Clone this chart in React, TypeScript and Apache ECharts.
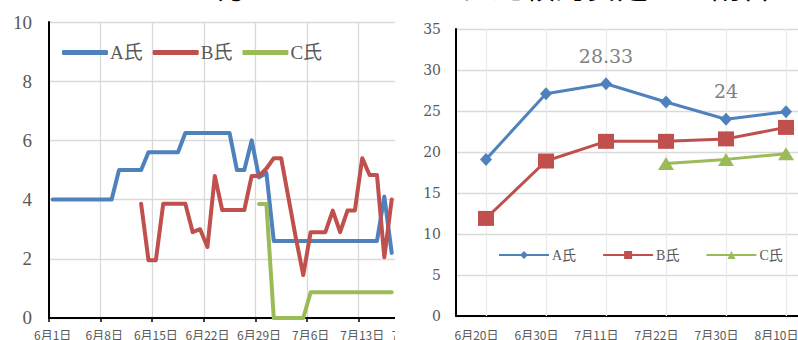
import React, { useEffect, useRef } from "react";
import * as echarts from "echarts";

// ---- left chart: daily values, 6/1 onwards ----
const leftMonthDays: [number, number][] = [
  [6, 30],
  [7, 27],
];
const leftDates: string[] = [];
for (const [m, n] of leftMonthDays) {
  for (let d = 1; d <= n; d++) leftDates.push(`${m}月${d}日`);
}

const leftNames = ["A氏", "B氏", "C氏"];
const leftA: (number | null)[] = [
  4, 4, 4, 4, 4, 4, 4, 4, 4,
  5, 5, 5, 5,
  5.6, 5.6, 5.6, 5.6, 5.6,
  6.25, 6.25, 6.25, 6.25, 6.25, 6.25, 6.25,
  5, 5, 6, 4.75, 4.9,
  2.6, 2.6, 2.6, 2.6, 2.6, 2.6, 2.6, 2.6, 2.6, 2.6, 2.6, 2.6, 2.6, 2.6, 2.6,
  4.1, 2.2,
];
const leftB: (number | null)[] = [
  null, null, null, null, null, null, null, null, null, null, null, null,
  3.86, 1.95, 1.95, 3.86, 3.86, 3.86, 3.86, 2.9, 3.0, 2.4,
  4.8, 3.65, 3.65, 3.65, 3.65, 4.8, 4.8, 5.05, 5.4, 5.4,
  4.05, 2.7, 1.45, 2.9, 2.9, 2.9, 3.63, 2.9, 3.63, 3.63,
  5.4, 4.83, 4.83, 2.05, 4.0,
];
const leftC: (number | null)[] = [
  null, null, null, null, null, null, null, null, null, null,
  null, null, null, null, null, null, null, null, null, null,
  null, null, null, null, null, null, null, null,
  3.85, 3.85, 0, 0, 0, 0, 0,
  0.87, 0.87, 0.87, 0.87, 0.87, 0.87, 0.87, 0.87, 0.87, 0.87, 0.87, 0.87,
];

// ---- right chart: survey dates ----
const rightDates = ["6月20日", "6月30日", "7月11日", "7月22日", "7月30日", "8月10日"];
const rightA: (number | null)[] = [19.1, 27.1, 28.33, 26.1, 24, 24.9];
const rightB: (number | null)[] = [11.9, 18.9, 21.3, 21.3, 21.6, 23.0];
const rightC: (number | null)[] = [null, null, null, 18.6, 19.1, 19.8];
const rightLabelled = [2, 4]; // points of A氏 that carry a value label

const COLORS = ["#4F81BD", "#C0504D", "#9BBB59"];
const GRAY = "#595959";
const SERIF = "'Liberation Serif', 'Noto Sans CJK JP', serif";
const GOTHIC = "'Noto Sans CJK JP', sans-serif";

function leftOption(): echarts.EChartsCoreOption {
  const series = [leftA, leftB, leftC].map((d, i) => ({
    name: leftNames[i],
    type: "line",
    data: d,
    symbol: "none",
    connectNulls: false,
    lineStyle: { color: COLORS[i], width: 4, cap: "round", join: "round" },
    itemStyle: { color: COLORS[i] },
  }));
  return {
    animation: false,
    grid: { left: 49, top: 22, width: leftDates.length * 7.37, height: 298 },
    legend: {
      left: 62,
      top: 43,
      icon: "roundRect",
      itemWidth: 46,
      itemHeight: 5,
      itemGap: 10,
      padding: 0,
      textStyle: { fontFamily: SERIF, fontSize: 19, color: GRAY, padding: [0, 0, 0, -3] },
      data: leftNames,
    },
    xAxis: {
      type: "category",
      data: leftDates,
      boundaryGap: true,
      axisLine: { lineStyle: { color: "#000", width: 2 } },
      axisTick: { show: true, interval: 6, length: 4, lineStyle: { color: "#000", width: 1.5 } },
      axisLabel: { interval: 6, margin: 10, fontSize: 12, color: GRAY, fontFamily: GOTHIC },
      splitLine: { show: true, interval: 6, lineStyle: { color: "#d9d9d9", width: 1.3 } },
    },
    yAxis: {
      type: "value",
      min: 0,
      max: 10,
      interval: 2,
      axisLine: { show: true, lineStyle: { color: "#000", width: 2 } },
      axisTick: { show: false },
      axisLabel: { margin: 17, fontSize: 19, fontFamily: SERIF, color: GRAY },
      splitLine: { lineStyle: { color: "#d9d9d9", width: 1.3 } },
    },
    series,
  };
}

function rightOption(): echarts.EChartsCoreOption {
  const symbols = ["diamond", "rect", "triangle"];
  const sizes = [[12, 13], [16, 15], [16, 13]];
  const series = [rightA, rightB, rightC].map((d, i) => ({
    name: leftNames[i],
    type: "line",
    data:
      i === 0
        ? d.map((v, k) =>
            rightLabelled.includes(k)
              ? {
                  value: v,
                  label: {
                    show: true,
                    position: "top",
                    distance: 12,
                    fontFamily: "'DejaVu Serif', serif",
                    fontSize: 19,
                    color: "#7f7f7f",
                  },
                }
              : v
          )
        : d,
    symbol: symbols[i],
    symbolSize: sizes[i],
    lineStyle: { color: COLORS[i], width: 3 },
    itemStyle: { color: COLORS[i] },
    z: 3 + i,
    markLine:
      i === 0
        ? {
            silent: true,
            symbol: "none",
            label: { show: false },
            lineStyle: { color: "#ececec", width: 1.3, type: "solid" },
            data: rightDates.map((c) => ({ xAxis: c })),
            z: 1,
          }
        : undefined,
  }));
  return {
    animation: false,
    grid: { left: 58, top: 29, width: 360, height: 292 },
    legend: {
      left: 100,
      top: 248,
      itemWidth: 50,
      itemHeight: 10,
      itemGap: 26,
      padding: 0,
      textStyle: { fontFamily: SERIF, fontSize: 14, color: GRAY, padding: [0, 0, 0, -2] },
      data: leftNames,
    },
    xAxis: {
      type: "category",
      data: rightDates,
      boundaryGap: true,
      axisLine: { lineStyle: { color: "#000", width: 2 } },
      axisTick: { show: false },
      axisLabel: {
        margin: 12,
        fontSize: 12,
        color: GRAY,
        fontFamily: GOTHIC,
        padding: [0, 19, 0, 0],
      },
      splitLine: { show: false },
    },
    yAxis: {
      type: "value",
      min: 0,
      max: 35,
      interval: 5,
      axisLine: { show: true, lineStyle: { color: "#000", width: 2 } },
      axisTick: { show: false },
      axisLabel: { margin: 15, fontSize: 14, fontFamily: "'DejaVu Serif', serif", color: GRAY },
      splitLine: { lineStyle: { color: "#d9d9d9", width: 1.3 } },
    },
    series,
  };
}

export default function App() {
  const leftRef = useRef<HTMLDivElement>(null);
  const rightRef = useRef<HTMLDivElement>(null);

  useEffect(() => {
    const l = echarts.init(leftRef.current!, undefined, { renderer: "svg" });
    const r = echarts.init(rightRef.current!, undefined, { renderer: "svg" });
    l.setOption(leftOption());
    r.setOption(rightOption());
    return () => {
      l.dispose();
      r.dispose();
    };
  }, []);

  return (
    <div
      style={{
        position: "fixed",
        left: 0,
        top: 0,
        width: 798,
        height: 340,
        overflow: "hidden",
        background: "#fff",
      }}
    >
      <div
        style={{
          position: "absolute",
          left: 2,
          top: -31,
          fontFamily: GOTHIC,
          fontSize: 31,
          lineHeight: "31px",
          whiteSpace: "nowrap",
          color: "#000",
        }}
      >
        くているもう一方もたとえて、ほぼ比較的安定した割合を示した。（図
      </div>
      <div style={{ position: "absolute", left: 0, top: 0, width: 395, height: 340, overflow: "hidden" }}>
        <div ref={leftRef} style={{ width: 500, height: 340 }} />
      </div>
      <div style={{ position: "absolute", left: 398, top: 0, width: 400, height: 340, overflow: "hidden" }}>
        <div ref={rightRef} style={{ width: 440, height: 340 }} />
      </div>
    </div>
  );
}
